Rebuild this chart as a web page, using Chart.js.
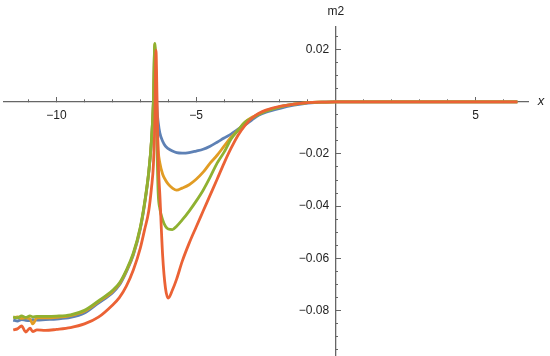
<!DOCTYPE html>
<html>
<head>
<meta charset="utf-8">
<script src="https://cdn.jsdelivr.net/npm/chart.js@4"></script>
<style>
  body { margin: 0; background: #fff; }
  canvas { display: block; }
</style>
</head>
<body>
<canvas id="plot" width="550" height="356"></canvas>
<script>
// sample positions along x (denser around the spike)
const xs = [-11.55, -11.4, -11.25, -11.1, -10.95, -10.85, -10.7, -10.4, -10, -9.5,
    -9, -8.5, -8, -7.75, -7.5, -7.25, -7, -6.85, -6.7, -6.6,
    -6.53, -6.48, -6.44, -6.4, -6.36, -6.3, -6.2, -6.1, -6, -5.85,
    -5.7, -5.5, -5.25, -5, -4.75, -4.5, -4.25, -4, -3.75, -3.5,
    -3.25, -3, -2.75, -2.5, -2, -1.5, -1, -0.5, 0, 1,
    2, 3, 4, 5, 6, 6.5];

const blueVals = [-0.0837, -0.0841, -0.0835, -0.0838, -0.0839, -0.0836, -0.0837, -0.0835, -0.0833, -0.0827,
    -0.0810, -0.0772, -0.0733, -0.0703, -0.0652, -0.0588, -0.0488, -0.0396, -0.0274, -0.0151,
    0.0002, 0.0213, 0.0083, -0.0032, -0.0078, -0.0120, -0.0151, -0.0170, -0.0180, -0.0189,
    -0.0195, -0.0197, -0.0195, -0.0189, -0.0182, -0.0170, -0.0155, -0.0139, -0.0124, -0.0105,
    -0.0088, -0.0069, -0.0051, -0.0040, -0.0025, -0.0013, -0.0005, -0.0001, 0, 0,
    0, 0, 0, 0, 0, 0];

const orangeVals = [-0.0829, -0.0825, -0.0831, -0.0829, -0.0833, -0.0852, -0.0829, -0.0829, -0.0827, -0.0820,
    -0.0803, -0.0767, -0.0728, -0.0699, -0.0649, -0.0584, -0.0484, -0.0392, -0.0272, -0.0149,
    0.0004, 0.0221, 0.0064, -0.0090, -0.0185, -0.0235, -0.0278, -0.0300, -0.0316, -0.0331,
    -0.0339, -0.0331, -0.0318, -0.0297, -0.0270, -0.0235, -0.0205, -0.0170, -0.0136, -0.0109,
    -0.0078, -0.0059, -0.0046, -0.0034, -0.0019, -0.0009, -0.0003, -0.0001, 0, 0,
    0, 0, 0, 0, 0, 0];

const greenVals = [-0.0825, -0.0829, -0.0821, -0.0827, -0.0821, -0.0825, -0.0823, -0.0823, -0.0822, -0.0817,
    -0.0800, -0.0764, -0.0724, -0.0695, -0.0645, -0.0580, -0.0480, -0.0389, -0.0270, -0.0147,
    0.0006, 0.0224, 0.0044, -0.0185, -0.0350, -0.0410, -0.0453, -0.0477, -0.0488, -0.0490,
    -0.0477, -0.0453, -0.0419, -0.0381, -0.0339, -0.0289, -0.0235, -0.0193, -0.0143, -0.0109,
    -0.0078, -0.0063, -0.0048, -0.0036, -0.0019, -0.0009, -0.0003, -0.0001, 0, 0,
    0, 0, 0, 0, 0, 0];

const redVals = [-0.0875, -0.0871, -0.0860, -0.0883, -0.0868, -0.0881, -0.0875, -0.0877, -0.0873, -0.0866,
    -0.0852, -0.0826, -0.0780, -0.0751, -0.0707, -0.0645, -0.0561, -0.0492, -0.0420, -0.0330,
    -0.0240, -0.0080, 0.0197, 0.0006, -0.0224, -0.0358, -0.0590, -0.0714, -0.0753, -0.0722,
    -0.0680, -0.0612, -0.0542, -0.0480, -0.0419, -0.0358, -0.0297, -0.0235, -0.0178, -0.0128,
    -0.0090, -0.0062, -0.0044, -0.0032, -0.0017, -0.0009, -0.0003, -0.0001, 0, 0,
    0, 0, 0, 0, 0, 0];

const X_MIN = -11.88, X_MAX = 6.88;
const Y_MIN = -0.0975, Y_MAX = 0.0287;

const AXIS_GREY = '#666';
const tickFont = { family: 'Liberation Sans', size: 12 };

function pairs(vals) {
    return xs.map((x, i) => ({ x: x, y: vals[i] }));
}

function series(vals, color, order) {
    return {
        data: pairs(vals),
        borderColor: color,
        borderWidth: 2.8,
        pointRadius: 0,
        fill: false,
        cubicInterpolationMode: 'monotone',
        order: order
    };
}

function minus(s) {
    return s.replace('-', '\u2212');
}

// axes sit on the origin, so they should not take space from the plot
function noWidth(scale) {
    scale.width = 0;
    scale.paddingTop = 0;
    scale.paddingBottom = 0;
}
function noHeight(scale) {
    scale.height = 0;
    scale.paddingLeft = 0;
    scale.paddingRight = 0;
}

// axis names "x" and "m2" at the ends of the axes
const axisNames = {
    id: 'axisNames',
    afterDraw(chart) {
        const ctx = chart.ctx;
        const sx = chart.scales.x, sy = chart.scales.y;
        ctx.save();
        ctx.fillStyle = '#222';
        ctx.textBaseline = 'middle';
        ctx.textAlign = 'center';
        ctx.font = 'italic 13px "Liberation Sans"';
        ctx.fillText('x', sx.right + 13, sy.getPixelForValue(0));
        ctx.font = '12px "Liberation Sans"';
        ctx.fillText('m2', sx.getPixelForValue(0), sy.top - 15);
        ctx.restore();
    }
};

new Chart(document.getElementById('plot'), {
    type: 'line',
    data: {
        datasets: [
            series(blueVals, '#5E81B5', 3),
            series(orangeVals, '#E19C24', 2),
            series(greenVals, '#8FB131', 1),
            series(redVals, '#EB6235', 0)
        ]
    },
    options: {
        responsive: false,
        animation: false,
        devicePixelRatio: 1,
        layout: { padding: { left: 4, right: 22, top: 27, bottom: 0 } },
        plugins: { legend: { display: false }, tooltip: { enabled: false } },
        scales: {
            x: {
                type: 'linear', min: X_MIN, max: X_MAX,
                position: { y: 0 },
                afterFit: noHeight,
                ticks: { stepSize: 1, includeBounds: false, display: false },
                grid: { drawOnChartArea: false, tickLength: -3, color: AXIS_GREY },
                border: { color: AXIS_GREY, width: 1.3 }
            },
            xMajor: {
                type: 'linear', axis: 'x', min: X_MIN, max: X_MAX,
                position: { y: 0 },
                afterFit: noHeight,
                ticks: {
                    stepSize: 5, includeBounds: false, padding: 12,
                    font: tickFont, color: '#222', maxRotation: 0,
                    callback: v => v === 0 ? '' : minus(String(v))
                },
                grid: { drawOnChartArea: false, tickLength: -5, color: AXIS_GREY },
                border: { display: false }
            },
            y: {
                type: 'linear', min: Y_MIN, max: Y_MAX,
                position: { x: 0 },
                afterFit: noWidth,
                ticks: { stepSize: 0.005, includeBounds: false, display: false },
                grid: { drawOnChartArea: false, tickLength: -3, color: AXIS_GREY },
                border: { color: AXIS_GREY, width: 1.3 }
            },
            yMajor: {
                type: 'linear', axis: 'y', min: Y_MIN, max: Y_MAX,
                position: { x: 0 },
                afterFit: noWidth,
                ticks: {
                    stepSize: 0.02, includeBounds: false, autoSkip: false,
                    font: tickFont, color: '#222',
                    callback: v => Math.abs(v) < 1e-9 ? '' : minus(v.toFixed(2)) + '  '
                },
                grid: { drawOnChartArea: false, tickLength: -5, color: AXIS_GREY },
                border: { display: false }
            }
        }
    },
    plugins: [axisNames]
});
</script>
</body>
</html>
